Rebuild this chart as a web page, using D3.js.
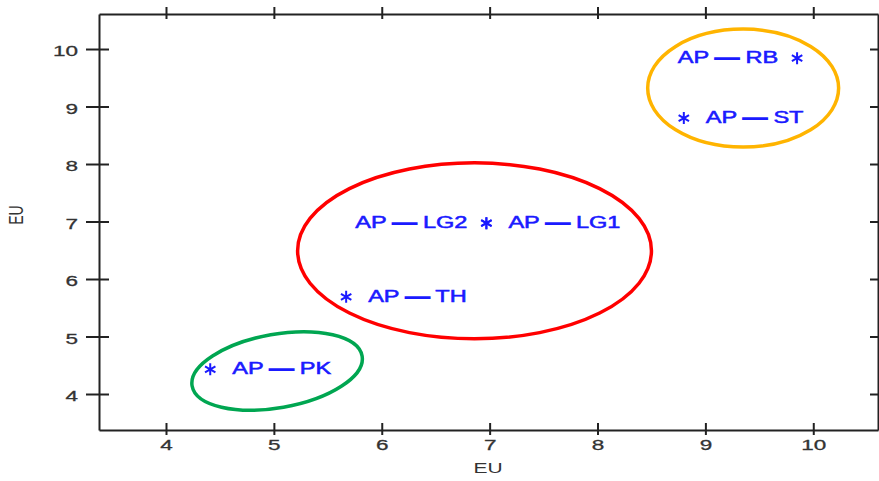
<!DOCTYPE html>
<html>
<head>
<meta charset="utf-8">
<script src="https://cdn.jsdelivr.net/npm/d3@7"></script>
<style>
  body { margin: 0; background: #fff; }
  svg { display: block; }
  text { font-family: "Liberation Sans", Arial, sans-serif; }
</style>
</head>
<body>
<svg id="chart" width="879" height="481"></svg>
<script>
// points (both axes are "EU")
const names = ["AP — PK", "AP — TH", "AP — LG2", "AP — LG1", "AP — RB", "AP — ST"];
const xVals = [4.41, 5.67, 6.97, 6.97, 9.85, 8.80];
const yVals = [4.43, 5.69, 6.97, 6.97, 9.84, 8.80];
const labelSide = ["right", "right", "left", "right", "left", "right"];
const ticks = [4, 5, 6, 7, 8, 9, 10];

// group ellipses
const groupCx = [5.03, 6.86, 9.35];
const groupCy = [4.40, 6.49, 9.32];
const groupRx = [0.80, 1.64, 0.885];
const groupRy = [0.64, 1.53, 1.026];
const groupTilt = [-10, 0, 0];
const groupColors = ["#00a651", "#ff0000", "#ffb400"];

const svg = d3.select("#chart");
const stretch = "scale(1.5,1)"; // the original is drawn wide

const x = d3.scaleLinear().domain([3.379, 10.6]).range([99, 878]);
const y = d3.scaleLinear().domain([3.374, 10.609]).range([430, 14]);

// axes
let axBottom = svg.append("g").attr("transform", "translate(0,430)")
    .call(d3.axisBottom(x).tickValues(ticks).tickSize(5).tickSizeOuter(0));
axBottom.selectAll("line").attr("y1", -7);
axBottom.selectAll("text").attr("y", null).attr("dy", null)
    .attr("transform", `translate(0,20) ${stretch}`);

let axLeft = svg.append("g").attr("transform", "translate(99,0)")
    .call(d3.axisLeft(y).tickValues(ticks).tickSize(13).tickSizeOuter(0));
axLeft.selectAll("line").attr("x1", 10);
axLeft.selectAll("text").attr("x", null).attr("dy", "0.45em")
    .attr("transform", `translate(-21,0) ${stretch}`);

let axTop = svg.append("g").attr("transform", "translate(0,14)")
    .call(d3.axisTop(x).tickValues(ticks).tickSize(7).tickSizeOuter(0).tickFormat(""));
axTop.selectAll("line").attr("y1", 5);

let axRight = svg.append("g").attr("transform", "translate(878,0)")
    .call(d3.axisLeft(y).tickValues(ticks).tickSize(8).tickSizeOuter(0).tickFormat(""));

svg.selectAll(".domain").style("stroke", "#222").style("stroke-width", 2);
svg.selectAll(".tick line").style("stroke", "#222").style("stroke-width", 2);
svg.selectAll(".tick text").style("font-size", "15px").style("fill", "#333")
    .style("stroke", "#333").style("stroke-width", 0.3);

// axis titles
svg.append("text")
    .attr("transform", `translate(488,473) ${stretch}`)
    .attr("text-anchor", "middle")
    .style("font-size", "14px").style("fill", "#333")
    .text("EU");
svg.append("text")
    .attr("transform", `translate(23,215) ${stretch} rotate(-90)`)
    .attr("text-anchor", "middle")
    .style("font-size", "14px").style("fill", "#333")
    .text("EU");

// ellipses
svg.selectAll(".group")
    .data(groupCx)
    .enter().append("ellipse")
    .attr("class", "group")
    .attr("cx", (d, i) => x(groupCx[i]))
    .attr("cy", (d, i) => y(groupCy[i]))
    .attr("rx", (d, i) => x(groupCx[i] + groupRx[i]) - x(groupCx[i]))
    .attr("ry", (d, i) => y(groupCy[i]) - y(groupCy[i] + groupRy[i]))
    .attr("transform", (d, i) => `rotate(${groupTilt[i]},${x(groupCx[i])},${y(groupCy[i])})`)
    .style("fill", "none")
    .style("stroke", (d, i) => groupColors[i])
    .style("stroke-width", 3.5);

// asterisks
const star = "M0,-6V6M-5.2,-3L5.2,3M-5.2,3L5.2,-3";
svg.selectAll(".point")
    .data(names)
    .enter().append("path")
    .attr("class", "point")
    .attr("d", star)
    .attr("transform", (d, i) => `translate(${x(xVals[i])},${y(yVals[i])})`)
    .style("fill", "none")
    .style("stroke", "#1a1aff")
    .style("stroke-width", 2);

// labels, the dash is drawn heavier like in the original
let labels = svg.selectAll(".label")
    .data(names)
    .enter().append("text")
    .attr("class", "label")
    .attr("transform", (d, i) => {
      let off = labelSide[i] == "left" ? -19 : 22;
      return `translate(${x(xVals[i]) + off},${y(yVals[i]) + 5}) ${stretch}`;
    })
    .attr("text-anchor", (d, i) => labelSide[i] == "left" ? "end" : "start")
    .style("font-size", "15.7px")
    .style("fill", "#1a1aff")
    .style("stroke", "#1a1aff")
    .style("stroke-width", 0.5);
labels.each(function(d) {
  let parts = d.split("—");
  let t = d3.select(this);
  t.append("tspan").text(parts[0]);
  t.append("tspan").text("—").style("stroke-width", 1.6);
  t.append("tspan").text(parts[1]);
});
</script>
</body>
</html>
